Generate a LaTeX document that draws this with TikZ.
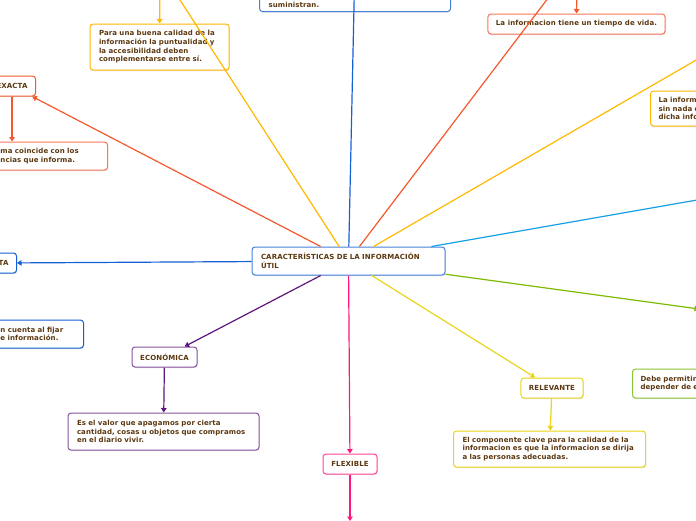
\documentclass[tikz,border=0pt]{standalone}
\usepackage{fontspec}
\setmainfont{DejaVu Sans}[LetterSpace=1.5]
\usepackage{tikz}
\usetikzlibrary{arrows.meta,positioning,calc,shadows}
\definecolor{mytext}{RGB}{92,56,16}
\definecolor{myblue}{RGB}{22,96,214}
\definecolor{mybluelt}{RGB}{70,130,220}
\definecolor{myred}{RGB}{244,88,44}
\definecolor{myredlt}{RGB}{244,120,90}
\definecolor{mygold}{RGB}{255,184,0}
\definecolor{mycyan}{RGB}{22,160,228}
\definecolor{mygreen}{RGB}{126,186,0}
\definecolor{mygreenlt}{RGB}{140,196,50}
\definecolor{myyellow}{RGB}{232,212,24}
\definecolor{mypink}{RGB}{255,22,126}
\definecolor{mypinklt}{RGB}{255,70,150}
\definecolor{mypurple}{RGB}{94,22,124}
\definecolor{mypurplelt}{RGB}{135,85,160}
\newcommand{\mapfont}{\fontsize{7}{8.7}\selectfont\bfseries}

\begin{document}
\begin{tikzpicture}[x=1pt,y=-1pt,
  box/.style={rectangle, rounded corners=3pt, fill=white, line width=1pt,
              font=\mapfont, text=mytext,
              drop shadow={shadow xshift=0.5pt, shadow yshift=-1.2pt, opacity=0.25}},
  title/.style={box, minimum height=20pt, inner xsep=8pt},
  desc/.style={box, align=left, inner xsep=9pt, inner ysep=4pt},
  link/.style={line width=1.2pt},
  arr/.style={link, -{Triangle[length=4.5pt, width=5.5pt]}}
]
  \useasboundingbox (0,0) rectangle (696,520);
  \clip (0,0) rectangle (696,520);

  % centre
  \node[desc, draw=mybluelt, text width=175pt, minimum height=28pt](central)
    at (348.5,261){CARACTERÍSTICAS DE LA INFORMACIÓN\\ÚTIL};

  % heads lying outside the page
  \coordinate(suminhead) at (355,-40);
  \coordinate(vidahead) at (577,-40);
  \coordinate(punthead) at (160,-31);
  \coordinate(goldhead) at (800,0);
  \coordinate(cyanhead) at (760,189);
  \coordinate(greenhead) at (699,309);
  \coordinate(flexend) at (350,521);

  % top
  \node[desc, draw=mybluelt, text width=173pt, text height=24pt, anchor=south west](sumin)
    at (259,12){suministran.};
  \node[title, draw=myredlt, minimum width=173pt](vida)
    at (576.5,24){La informacion tiene un tiempo de vida.};
  \node[desc, draw=mygold, text width=121pt, minimum height=46pt](puntual)
    at (159.5,47){Para una buena calidad de la\\información la puntualidad y\\la accesibilidad deben\\complementarse entre sí.};

  % left
  \node[title, draw=myred, anchor=east](exacta) at (36,86){EXACTA};
  \node[desc, draw=myredlt, text width=98pt, minimum height=28pt, anchor=west](exdesc)
    at (-9,156){ma coincide con los\\ncias que informa.};
  \node[title, draw=myblue, anchor=east](completa) at (17,263){TA};
  \node[desc, draw=myblue, text width=74pt, minimum height=28pt, anchor=west](cuenta)
    at (-9,334){n cuenta al fijar\\e información.};

  % bottom
  \node[title, draw=mypurplelt, minimum width=65pt](econ) at (164.5,357){ECONÓMICA};
  \node[desc, draw=mypurplelt, text width=173pt, minimum height=37pt](econdesc)
    at (163.5,431.5){Es el valor que apagamos por cierta\\cantidad, cosas u objetos que compramos\\en el diario vivir.};
  \node[title, draw=mypinklt, minimum width=54pt](flex) at (350,464){FLEXIBLE};
  \node[title, draw=myyellow, minimum width=62pt](relev) at (552,388){RELEVANTE};
  \node[desc, draw=myyellow, text width=174pt, minimum height=36pt](reldesc)
    at (549.5,449){El componente clave para la calidad de la\\informacion es que la informacion se dirija\\a las personas adecuadas.};

  % right
  \node[desc, draw=mygold, text width=120pt, minimum height=35pt, inner xsep=8pt, anchor=west](golddesc)
    at (650,108.5){La informa\\sin nada d\\dicha info};
  \node[desc, draw=mygreenlt, text width=120pt, minimum height=29pt, inner xsep=8pt, anchor=west](greendesc)
    at (632,383.5){Debe permitir\\depender de e};

  % branches
  \draw[link, myblue](central)--(suminhead);
  \draw[link, myred](central)--(vidahead);
  \draw[arr, myred](vidahead)--(vida);
  \draw[link, mygold](central)--(punthead);
  \draw[arr, mygold](punthead)--(puntual);
  \draw[arr, myred](central)--(exacta);
  \draw[arr, myred](exacta)--(exacta |- exdesc.north);
  \draw[arr, myblue](central)--(completa);
  \draw[arr, mypurple](central)--(econ);
  \draw[arr, mypurple](econ)--(econdesc);
  \draw[arr, mypink](central)--(flex);
  \draw[arr, mypink](flex)--(flexend);
  \draw[arr, myyellow](central)--(relev);
  \draw[arr, myyellow](relev)--(reldesc);
  \draw[link, mygold](central)--(goldhead);
  \draw[link, mycyan](central)--(cyanhead);
  \draw[arr, mygreen](central)--(greenhead);
\end{tikzpicture}
\end{document}
